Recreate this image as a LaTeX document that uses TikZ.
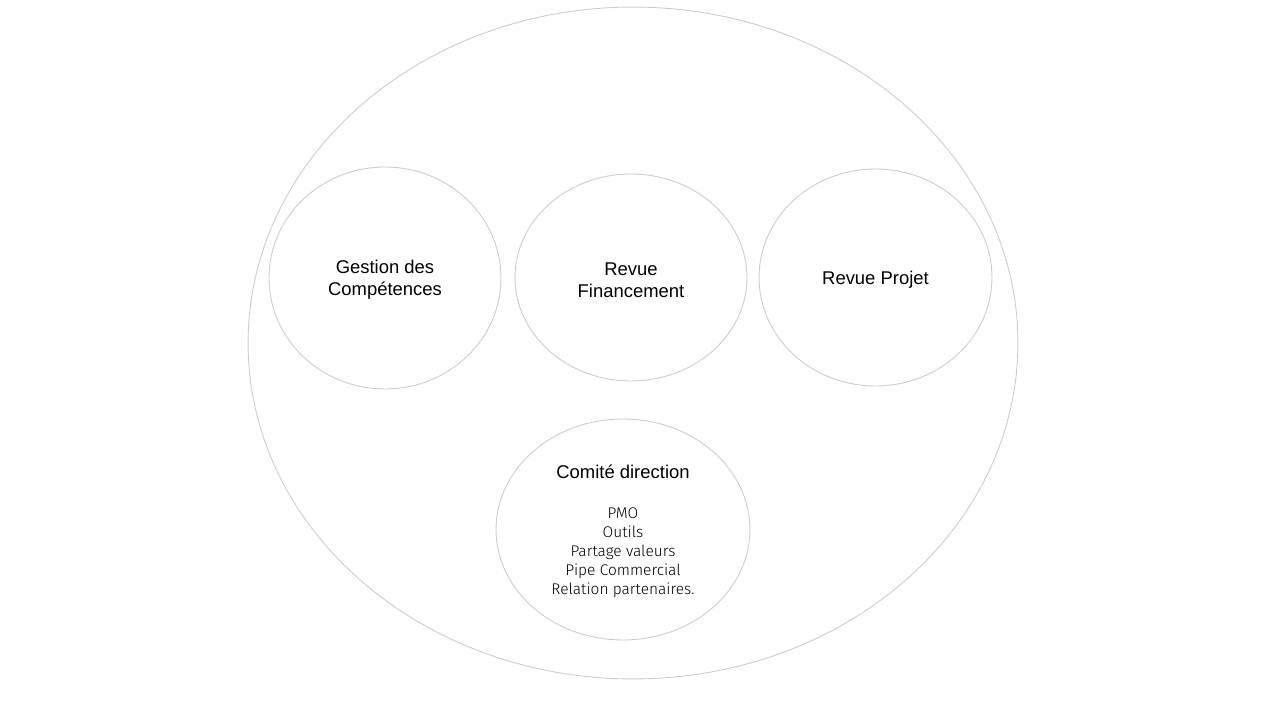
\documentclass[tikz,border=0pt]{standalone}
\usepackage{fontspec}
\setmainfont{Liberation Sans}
\newfontfamily\legere{Fira Sans Light}
\usetikzlibrary{shapes.geometric}

\tikzset{
	bulle/.style={ellipse, draw=black!20, line width=0.5pt, inner sep=0pt},
	titre/.style={font=\fontsize{10.5}{12.5}\selectfont, align=center},
	liste/.style={font=\legere\fontsize{8.8}{10.8}\selectfont, align=center}
}

\begin{document}
\begin{tikzpicture}[x=0.02cm, y=-0.02cm]
	% Cadre de la page (en pixels)
	\useasboundingbox (0,0) rectangle (1279,719);
	
	% --- Grande ellipse ---
	\node[bulle, minimum width=15.4cm, minimum height=13.44cm] (Cadre) at (633,343) {};
	
	% --- Les trois revues ---
	\node[bulle, minimum width=4.64cm, minimum height=4.44cm] (Gestion) at (385,278) {};
	\node[bulle, minimum width=4.64cm, minimum height=4.14cm] (Financement) at (631,277.5) {};
	\node[bulle, minimum width=4.66cm, minimum height=4.34cm] (Projet) at (875.5,277.5) {};
	
	\node[titre] (GestionTitre) at (385,280) {Gestion des\\Compétences};
	\node[titre] (FinancementTitre) at (631,280) {Revue\\Financement};
	\node[titre] (ProjetTitre) at (875.5,280) {Revue Projet};
	
	% --- Comité de direction ---
	\node[bulle, minimum width=5.08cm, minimum height=4.42cm] (Comite) at (623,529.5) {};
	\node[titre] (ComiteTitre) at (623,472) {Comité direction};
	\node[liste] (ComiteListe) at (623,553) {PMO\\Outils\\Partage valeurs\\Pipe Commercial\\Relation partenaires.};
	
\end{tikzpicture}
\end{document}
